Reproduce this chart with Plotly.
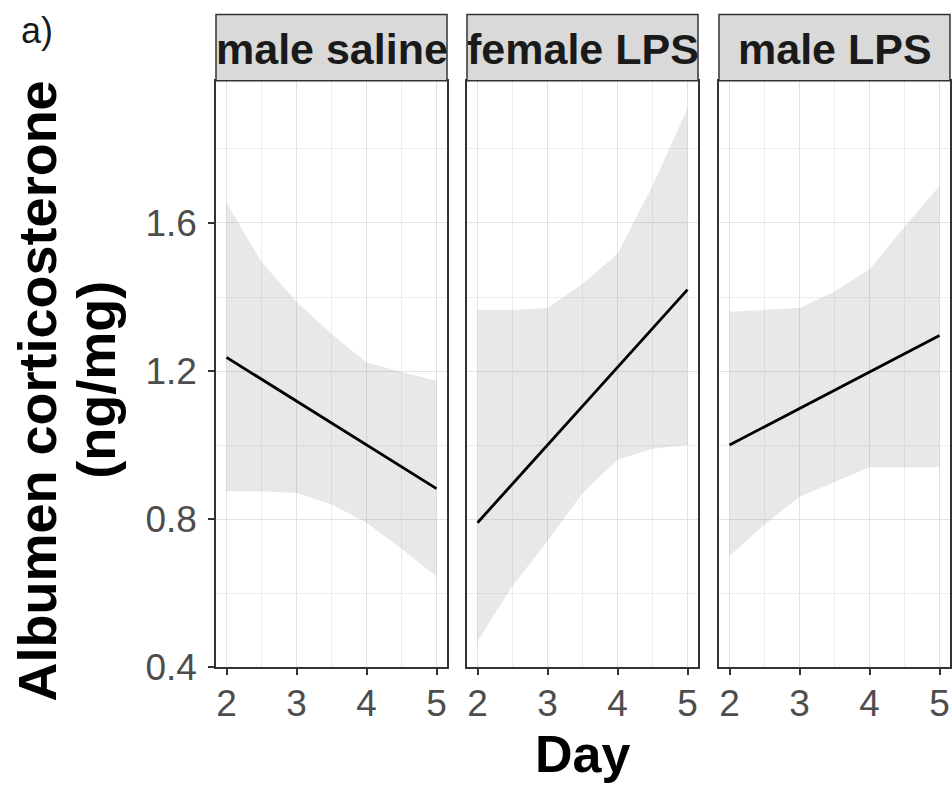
import plotly.graph_objects as go

# Panels (facets) of the model fit
groups = ["male saline", "female LPS", "male LPS"]

# Fitted line: predicted albumen corticosterone at day 2 and day 5
fit_days = [2, 5]
fit_male_saline = [1.237, 0.882]
fit_female_lps = [0.79, 1.42]
fit_male_lps = [1.0, 1.296]

# Confidence band sampled every half day
band_days = [2, 2.5, 3, 3.5, 4, 4.5, 5]
lower_male_saline = [0.875, 0.875, 0.87, 0.84, 0.79, 0.72, 0.645]
upper_male_saline = [1.655, 1.495, 1.387, 1.30, 1.224, 1.197, 1.174]
lower_female_lps = [0.47, 0.62, 0.74, 0.87, 0.96, 0.99, 1.0]
upper_female_lps = [1.365, 1.365, 1.37, 1.435, 1.517, 1.70, 1.91]
lower_male_lps = [0.70, 0.785, 0.86, 0.90, 0.94, 0.94, 0.94]
upper_male_lps = [1.36, 1.365, 1.37, 1.415, 1.475, 1.59, 1.70]

fits = [fit_male_saline, fit_female_lps, fit_male_lps]
lowers = [lower_male_saline, lower_female_lps, lower_male_lps]
uppers = [upper_male_saline, upper_female_lps, upper_male_lps]

y_ticks = [0.4, 0.8, 1.2, 1.6]
x_ticks = [2, 3, 4, 5]

W, H = 952, 801
FONT = "Liberation Sans, Arial, sans-serif"

# panel geometry (pixels from the top-left corner)
panel_left = [216, 467, 719]
panel_width = 231
plot_top, plot_bottom = 83, 685
strip_top = 15


def px_x(x):
    return x / W


def px_y(y):
    return (H - y) / H


fig = go.Figure()

for i, name in enumerate(groups):
    xa = "x" if i == 0 else f"x{i + 1}"
    ya = "y" if i == 0 else f"y{i + 1}"
    # confidence ribbon
    fig.add_trace(go.Scatter(
        x=band_days + band_days[::-1],
        y=uppers[i] + lowers[i][::-1],
        fill="toself",
        fillcolor="rgba(150,150,150,0.22)",
        line=dict(width=0),
        mode="lines",
        hoverinfo="skip",
        showlegend=False,
        xaxis=xa, yaxis=ya,
    ))
    # fitted line
    fig.add_trace(go.Scatter(
        x=fit_days, y=fits[i],
        mode="lines",
        line=dict(color="black", width=2.8),
        showlegend=False,
        xaxis=xa, yaxis=ya,
    ))

y_range = [0.4, 0.4 + (plot_bottom - plot_top) / 380.0]
common_axis = dict(
    showline=True, mirror=True, linecolor="#333333", linewidth=1.5,
    zeroline=False,
    gridcolor="#E2E2E2", gridwidth=1.3,
    ticks="outside", ticklen=6, tickwidth=1.5, tickcolor="#333333",
    tickfont=dict(family=FONT, size=37, color="#4D4D4D"),
)

layout = dict(
    width=W, height=H,
    margin=dict(l=0, r=0, t=0, b=0),
    paper_bgcolor="white", plot_bgcolor="white",
    showlegend=False,
)

for i in range(3):
    xkey = "xaxis" if i == 0 else f"xaxis{i + 1}"
    ykey = "yaxis" if i == 0 else f"yaxis{i + 1}"
    yname = "y" if i == 0 else f"y{i + 1}"
    xname = "x" if i == 0 else f"x{i + 1}"
    left = panel_left[i]
    layout[xkey] = dict(
        common_axis,
        domain=[px_x(left), px_x(left + panel_width)],
        range=[1.85, 5.15],
        tickvals=x_ticks,
        ticktext=[str(v) for v in x_ticks],
        ticklabelstandoff=-3,
        anchor=yname,
        minor=dict(tickvals=[2.5, 3.5, 4.5], showgrid=True,
                   gridcolor="#EDEDED", gridwidth=1.0, ticks=""),
    )
    ydef = dict(
        common_axis,
        domain=[px_y(plot_bottom), px_y(plot_top)],
        range=y_range,
        tickvals=y_ticks,
        ticktext=[f"{v:.1f}" for v in y_ticks],
        ticklabelstandoff=4,
        anchor=xname,
        minor=dict(tickvals=[0.6, 1.0, 1.4, 1.8], showgrid=True,
                   gridcolor="#EDEDED", gridwidth=1.0, ticks=""),
    )
    if i > 0:
        ydef.update(showticklabels=False, ticks="", matches="y")
    layout[ykey] = ydef

fig.update_layout(**layout)

# facet strips
for i, name in enumerate(groups):
    xdom = "x domain" if i == 0 else f"x{i + 1} domain"
    fig.add_shape(type="rect", xref=xdom, yref="paper",
                  x0=0, x1=1, y0=px_y(plot_top), y1=px_y(strip_top),
                  fillcolor="#D9D9D9", line=dict(color="#333333", width=1.5),
                  layer="above")
    fig.add_annotation(
        x=px_x(panel_left[i] + panel_width / 2), y=px_y((plot_top + strip_top) / 2 + 1),
        xref="paper", yref="paper", xanchor="center", yanchor="middle",
        text=f"<b>{name}</b>", showarrow=False,
        font=dict(family=FONT, size=43, color="#1A1A1A"),
    )

# axis titles
fig.add_annotation(
    x=px_x(582), y=px_y(774), xref="paper", yref="paper",
    xanchor="center", yanchor="middle", showarrow=False,
    text="<b>Day</b>", font=dict(family=FONT, size=52, color="black"),
)
fig.add_annotation(
    x=px_x(37), y=px_y(402), xref="paper", yref="paper",
    xanchor="center", yanchor="middle", showarrow=False, textangle=-90,
    text="<b>Albumen corticosterone</b>", font=dict(family=FONT, size=54, color="black"),
)
fig.add_annotation(
    x=px_x(96), y=px_y(390), xref="paper", yref="paper",
    xanchor="center", yanchor="middle", showarrow=False, textangle=-90,
    text="<b>(ng/mg)</b>", font=dict(family=FONT, size=54, color="black"),
)
# panel tag
fig.add_annotation(
    x=px_x(37), y=px_y(31), xref="paper", yref="paper",
    xanchor="center", yanchor="middle", showarrow=False,
    text="a)", font=dict(family=FONT, size=36, color="#1A1A1A"),
)

fig.write_html("out.html")
